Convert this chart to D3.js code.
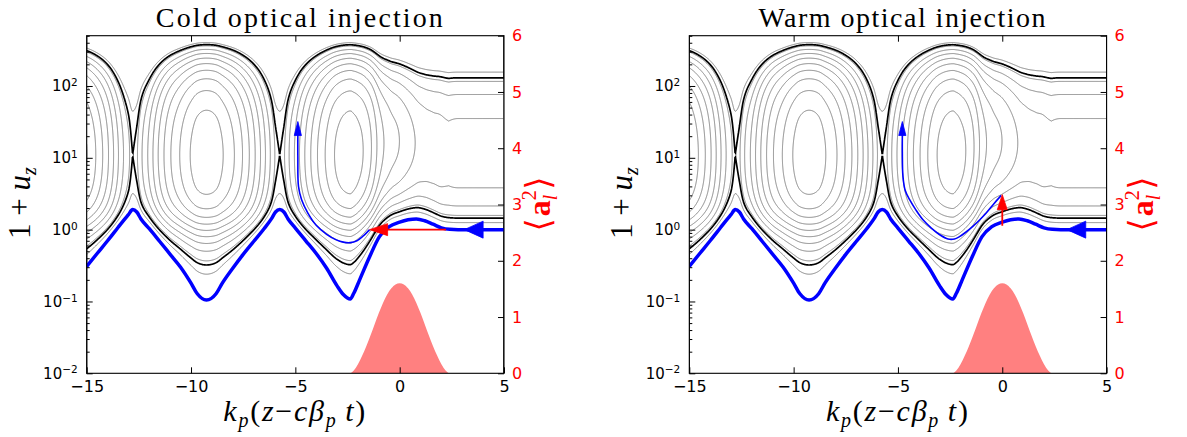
<!DOCTYPE html>
<html><head><meta charset="utf-8">
<script src="https://cdn.jsdelivr.net/npm/d3@7"></script>
<style>
body{margin:0;background:#fff}
svg{display:block}
</style></head>
<body><svg id="c" width="1187" height="437"></svg>
<script>
// ---------------- data ----------------
const panelTitles = ["Cold optical injection", "Warm optical injection"];
const xTicks = [-15, -10, -5, 0, 5];
const xTopTicks = [-10, -5, 0];
const yDecades = [-2, -1, 0, 1, 2];
const a2Ticks = [0, 1, 2, 3, 4, 5, 6];
const gammaP = 10;

// background plasma fluid trajectory (thick blue), 1+u_z
const fluidXi = [-15, -14.5, -14, -13.5, -13.2, -13.0, -12.8, -12.6, -12.4, -12.0, -11.5, -11.0, -10.5, -10.0, -9.7, -9.26,
  -8.8, -8.5, -8.0, -7.5, -7.0, -6.5, -6.15, -5.95, -5.75, -5.55, -5.35, -5.0, -4.5, -4.0, -3.5, -3.0, -2.7, -2.37,
  -2.2, -1.92, -1.44, -0.97, -0.5, 0.0, 0.4, 0.8, 1.2, 1.6, 2.0, 2.4, 2.8, 5.0];
const fluidY = [0.307, 0.465, 0.70, 1.07, 1.38, 1.62, 1.90, 1.76, 1.41, 1.03, 0.684, 0.453, 0.30, 0.18, 0.128, 0.105,
  0.128, 0.18, 0.29, 0.453, 0.684, 1.03, 1.41, 1.76, 1.90, 1.76, 1.41, 1.05, 0.70, 0.465, 0.29, 0.165, 0.125, 0.108,
  0.13, 0.20, 0.42, 0.80, 1.10, 1.27, 1.37, 1.41, 1.33, 1.19, 1.06, 1.01, 1.0, 1.0];

// laser <a^2> profile (red)
const laserXi = [-2.35, -2.2, -2.0, -1.8, -1.6, -1.4, -1.2, -1.0, -0.8, -0.6, -0.4, -0.2, 0, 0.2, 0.4, 0.6, 0.8, 1.0, 1.2, 1.4, 1.6, 1.8, 2.0, 2.2, 2.35];
const laserA2 = [0, 0.05, 0.16, 0.31, 0.48, 0.67, 0.87, 1.07, 1.25, 1.40, 1.51, 1.58, 1.60, 1.58, 1.51, 1.40, 1.25, 1.07, 0.87, 0.67, 0.48, 0.31, 0.16, 0.05, 0];

// Hamiltonian levels of the grey phase-space orbits
const contourLevels = [0.78, 0.58, 0.383, 0.186, -0.011, -0.208, -0.405, -0.602, -0.799, -0.996];

// injected electron orbits (thin blue)
const coldXi = [-1.44, -1.76, -2.05, -2.37, -2.7, -3.04, -3.5, -4.0, -4.4, -4.7, -4.85, -4.88, -4.88];
const coldY  = [1.0, 0.81, 0.70, 0.66, 0.67, 0.72, 0.86, 1.15, 1.7, 2.6, 4.0, 10, 21];
const coldTip = [-4.88, 32];
const warmXi = [-0.05, -0.4, -0.77, -1.1, -1.41, -1.75, -2.05, -2.29, -2.6, -3.0, -3.4, -3.8, -4.15, -4.44, -4.65, -4.76, -4.79, -4.79];
const warmY  = [3.0, 2.3, 1.70, 1.35, 1.11, 0.92, 0.80, 0.74, 0.74, 0.85, 1.05, 1.37, 1.9, 2.61, 3.5, 5.5, 12, 21];
const warmTip = [-4.79, 32];

// injection arrows (red) and the plasma flow arrow (blue)
const coldArrowFrom = [2.22, 1.0], coldArrowTo = [-1.44, 1.0];
const warmArrowFrom = [0, 1.13], warmArrowTo = [0, 3.07];
const flowArrowTip = [3.1, 1.0], flowArrowBase = [4.0, 1.0];

// ---------------- helpers ----------------
const beta = Math.sqrt(1 - 1 / (gammaP * gammaP));
function monotone(X, Y) { // same scheme as d3.curveMonotoneX
  const n = X.length, s = [], m = new Array(n);
  for (let i = 0; i < n - 1; i++) s.push((Y[i + 1] - Y[i]) / (X[i + 1] - X[i]));
  for (let i = 1; i < n - 1; i++) {
    const h0 = X[i] - X[i - 1], h1 = X[i + 1] - X[i];
    const p = (s[i - 1] * h1 + s[i] * h0) / (h0 + h1);
    m[i] = (Math.sign(s[i - 1]) + Math.sign(s[i])) * Math.min(Math.abs(s[i - 1]), Math.abs(s[i]), 0.5 * Math.abs(p)) || 0;
  }
  m[0] = (3 * s[0] - m[1]) / 2; m[n - 1] = (3 * s[n - 2] - m[n - 2]) / 2;
  return function (x) {
    if (x <= X[0]) return Y[0];
    if (x >= X[n - 1]) return Y[n - 1];
    let i = d3.bisectRight(X, x) - 1; if (i >= n - 1) i = n - 2;
    const h = X[i + 1] - X[i], t = (x - X[i]) / h;
    const t2 = t * t, t3 = t2 * t;
    return (2 * t3 - 3 * t2 + 1) * Y[i] + (t3 - 2 * t2 + t) * h * m[i] + (-2 * t3 + 3 * t2) * Y[i + 1] + (t3 - t2) * h * m[i + 1];
  };
}
const fluidLog = monotone(fluidXi, fluidY.map(Math.log10));
const a2Fn0 = monotone(laserXi, laserA2);
const a2Fn = x => (x <= laserXi[0] || x >= laserXi[laserXi.length - 1]) ? 0 : Math.max(0, a2Fn0(x));
function phiAt(xi) { // wake potential from the fluid orbit (H = 1)
  const u = Math.pow(10, fluidLog(xi)) - 1, a2 = a2Fn(xi);
  return Math.sqrt(1 + a2 + u * u) - beta * u - 1;
}
// separatrix level: orbit through the X-point (max of fluid curve)
const iX = d3.maxIndex(fluidY.slice(0, 12));
const uRes = gammaP * beta;
const hSep = Math.sqrt(1 + uRes * uRes) - beta * uRes - phiAt(fluidXi[iX]);

// grid of H(xi, log10(1+u))
const nx = 841, ny = 781, xiMin = -15, xiMax = 5, Lmin = -2.4, Lmax = 3.0;
const dxi = (xiMax - xiMin) / (nx - 1), dL = (Lmax - Lmin) / (ny - 1);
const colA2 = new Float64Array(nx), colPhi = new Float64Array(nx);
for (let i = 0; i < nx; i++) { const xi = xiMin + i * dxi; colA2[i] = a2Fn(xi); colPhi[i] = phiAt(xi); }
const Hgrid = new Float64Array(nx * ny);
for (let j = 0; j < ny; j++) {
  const u = Math.pow(10, Lmin + j * dL) - 1, u2 = u * u, bu = beta * u;
  for (let i = 0; i < nx; i++) Hgrid[j * nx + i] = Math.sqrt(1 + colA2[i] + u2) - bu - colPhi[i];
}
const greyContours = d3.contours().size([nx, ny]).thresholds(contourLevels)(Hgrid);
const sepContour = d3.contours().size([nx, ny]).thresholds([hSep])(Hgrid);

// ---------------- drawing ----------------
const svg = d3.select('#c');
const plotTop = 35.7, plotBottom = 373.3, plotW = 417.3;
const panelLeft = [86.7, 689.3];

panelLeft.forEach((x0, p) => {
  const x1 = x0 + plotW;
  const xs = d3.scaleLinear().domain([xiMin, xiMax]).range([x0, x1]);
  const ys = d3.scaleLog().domain([1e-2, Math.pow(10, 2.7)]).range([plotBottom, plotTop]);
  const ya = d3.scaleLinear().domain([0, 6]).range([plotBottom, plotTop]);
  const g = svg.append('g');
  const clipId = 'clip' + p;
  g.append('clipPath').attr('id', clipId).append('rect')
    .attr('x', x0).attr('y', plotTop).attr('width', plotW).attr('height', plotBottom - plotTop);
  const plot = g.append('g').attr('clip-path', `url(#${clipId})`);

  // laser pulse
  plot.append('path')
    .datum(laserXi.map((x, i) => [x, laserA2[i]]))
    .attr('d', d3.area().x(d => xs(d[0])).y0(ya(0)).y1(d => ya(d[1])).curve(d3.curveMonotoneX))
    .attr('fill', '#ff8080');

  const proj = d3.geoTransform({
    point: function (x, y) {
      this.stream.point(xs(xiMin + (x - 0.5) * dxi), ys(Math.pow(10, Lmin + (y - 0.5) * dL)));
    }
  });
  const gp = d3.geoPath(proj);
  plot.append('g').selectAll('path').data(greyContours).join('path')
    .attr('d', gp).attr('fill', 'none').attr('stroke', '#808080').attr('stroke-width', 1);
  plot.append('g').selectAll('path').data(sepContour).join('path')
    .attr('d', gp).attr('fill', 'none').attr('stroke', '#000').attr('stroke-width', 1.7);

  // fluid orbit
  plot.append('path')
    .datum(fluidXi.map((x, i) => [x, fluidY[i]]))
    .attr('d', d3.line().x(d => xs(d[0])).y(d => ys(d[1])).curve(d3.curveMonotoneX))
    .attr('fill', 'none').attr('stroke', '#0000ff').attr('stroke-width', 3.5);

  function head(tip, from, len, hw, color) {
    const tx = xs(tip[0]), ty = ys(tip[1]);
    const fx = xs(from[0]), fy = ys(from[1]);
    const dx = tx - fx, dy = ty - fy, L = Math.hypot(dx, dy), ux = dx / L, uy = dy / L;
    const bx = tx - ux * len, by = ty - uy * len;
    plot.append('path')
      .attr('d', `M${tx},${ty}L${bx - uy * hw},${by + ux * hw}L${bx + uy * hw},${by - ux * hw}Z`)
      .attr('fill', color).attr('stroke', color).attr('stroke-width', 0.8);
  }
  // blue flow arrowhead
  head(flowArrowTip, flowArrowBase, xs(flowArrowBase[0]) - xs(flowArrowTip[0]), 8.5, '#0000ff');

  // injected orbit
  const pxi = p === 0 ? coldXi : warmXi, py = p === 0 ? coldY : warmY, tip = p === 0 ? coldTip : warmTip;
  plot.append('path')
    .datum(pxi.map((x, i) => [x, py[i]]))
    .attr('d', d3.line().x(d => xs(d[0])).y(d => ys(d[1])).curve(d3.curveCatmullRom))
    .attr('fill', 'none').attr('stroke', '#0000ff').attr('stroke-width', 1.6);
  head(tip, [pxi[pxi.length - 1], py[py.length - 1]], 14, 3.6, '#0000ff');

  // injection arrow
  const af = p === 0 ? coldArrowFrom : warmArrowFrom, at = p === 0 ? coldArrowTo : warmArrowTo;
  const hl = p === 0 ? 18 : 15, hw = p === 0 ? 6 : 5;
  {
    const tx = xs(at[0]), ty = ys(at[1]), fx = xs(af[0]), fy = ys(af[1]);
    const L = Math.hypot(tx - fx, ty - fy), ux = (tx - fx) / L, uy = (ty - fy) / L;
    plot.append('line').attr('x1', fx).attr('y1', fy).attr('x2', tx - ux * hl * 0.9).attr('y2', ty - uy * hl * 0.9)
      .attr('stroke', '#ff0000').attr('stroke-width', 1.8);
    head(at, af, hl, hw, '#ff0000');
  }

  // axes
  const fontSans = 'DejaVu Sans';
  const bx = g.append('g').attr('transform', `translate(0,${plotBottom})`)
    .call(d3.axisBottom(xs).tickValues(xTicks).tickSize(-6).tickPadding(7).tickFormat(d => d < 0 ? '\u2212' + Math.abs(d) : d));
  bx.select('.domain').remove();
  bx.selectAll('text').attr('font-family', fontSans).attr('font-size', 16).attr('fill', '#000');
  const tx = g.append('g').attr('transform', `translate(0,${plotTop})`)
    .call(d3.axisTop(xs).tickValues(xTopTicks).tickSize(-6).tickFormat(''));
  tx.select('.domain').remove();

  const majors = yDecades.map(e => Math.pow(10, e));
  const minors = [];
  yDecades.forEach(e => { for (let k = 2; k <= 9; k++) { const v = k * Math.pow(10, e); if (v <= Math.pow(10, 2.7)) minors.push(v); } });
  const ly = g.append('g').attr('transform', `translate(${x0},0)`)
    .call(d3.axisLeft(ys).tickValues(majors).tickSize(-6).tickFormat(''));
  ly.select('.domain').remove();
  const lym = g.append('g').attr('transform', `translate(${x0},0)`)
    .call(d3.axisLeft(ys).tickValues(minors).tickSize(-3).tickFormat(''));
  lym.select('.domain').remove();
  g.append('g').selectAll('text').data(yDecades).join('text')
    .attr('x', x0 - 9).attr('y', e => ys(Math.pow(10, e))).attr('dy', '0.36em')
    .attr('text-anchor', 'end').attr('font-family', fontSans).attr('font-size', 15)
    .each(function (e) {
      const t = d3.select(this);
      t.append('tspan').text('10');
      t.append('tspan').attr('dy', '-0.5em').attr('font-size', 10.5).text(e < 0 ? '\u2212' + Math.abs(e) : e);
    });

  const ry = g.append('g').attr('transform', `translate(${x1},0)`)
    .call(d3.axisRight(ya).tickValues(a2Ticks).tickSize(-6).tickPadding(8).tickFormat(d3.format('d')));
  ry.select('.domain').remove();
  ry.selectAll('text').attr('font-family', fontSans).attr('font-size', 16).attr('fill', '#ff0000');

  g.append('rect').attr('x', x0).attr('y', plotTop).attr('width', plotW).attr('height', plotBottom - plotTop)
    .attr('fill', 'none').attr('stroke', '#000').attr('stroke-width', 1.1);

  // texts
  const serif = 'Liberation Serif, DejaVu Serif, serif';
  g.append('text').attr('x', (x0 + x1) / 2 + 4).attr('y', 27).attr('text-anchor', 'middle')
    .attr('font-family', serif).attr('font-size', 28).attr('textLength', 287).attr('lengthAdjust', 'spacing')
    .text(panelTitles[p]);

  const xl = g.append('text').attr('x', (x0 + x1) / 2 - 1).attr('y', 421).attr('text-anchor', 'middle')
    .attr('font-family', serif).attr('font-size', 30).attr('textLength', 142).attr('lengthAdjust', 'spacing');
  xl.append('tspan').attr('font-style', 'italic').text('k');
  xl.append('tspan').attr('font-style', 'italic').attr('font-size', 20).attr('dy', 6).text('p');
  xl.append('tspan').attr('dy', -6).text('(');
  xl.append('tspan').attr('font-style', 'italic').text('z');
  xl.append('tspan').text('\u2212');
  xl.append('tspan').attr('font-style', 'italic').text('c\u03b2');
  xl.append('tspan').attr('font-style', 'italic').attr('font-size', 20).attr('dy', 6).text('p');
  xl.append('tspan').attr('font-style', 'italic').attr('dy', -6).text('\u2009t');
  xl.append('tspan').text(')');

  const yl = g.append('text').attr('transform', `translate(${x0 - 57},203) rotate(-90)`).attr('text-anchor', 'middle')
    .attr('font-family', serif).attr('font-size', 31);
  yl.append('tspan').text('1 + ');
  yl.append('tspan').attr('font-style', 'italic').text('u');
  yl.append('tspan').attr('font-style', 'italic').attr('font-size', 20).attr('dy', 6).text('z');

  const rl = g.append('text').attr('transform', `translate(${x1 + 46},204) rotate(-90)`).attr('text-anchor', 'middle')
    .attr('font-family', serif).attr('font-size', 32).attr('fill', '#ff0000');
  rl.append('tspan').attr('font-family', 'DejaVu Serif').attr('font-size', 34).attr('font-weight', 300).text('\u27e8');
  rl.append('tspan').attr('font-weight', 'bold').attr('dx', 2).text('a');
  rl.append('tspan').attr('font-size', 20).attr('dy', -14).text('2');
  rl.append('tspan').attr('font-size', 20).attr('font-style', 'italic').attr('dx', -10).attr('dy', 21).text('l');
  rl.append('tspan').attr('font-family', 'DejaVu Serif').attr('font-size', 34).attr('dy', -7).attr('dx', 5).text('\u27e9');
});
</script>
</body></html>
